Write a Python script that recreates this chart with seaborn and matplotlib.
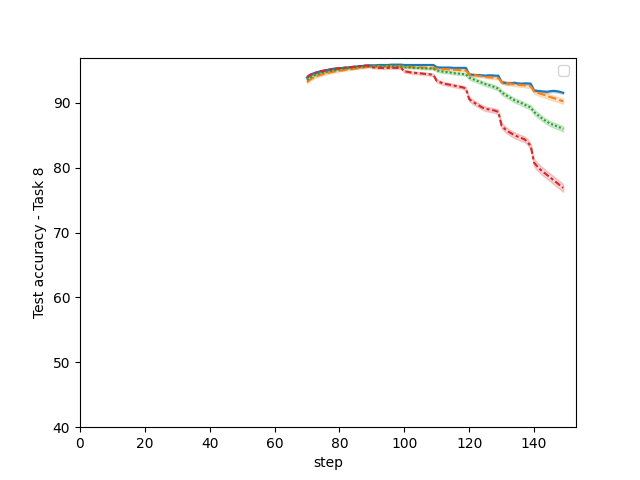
import numpy as np
import pandas as pd
import matplotlib
matplotlib.use("Agg")
import matplotlib.pyplot as plt
import seaborn as sns

# steps where task 8 is evaluated
steps = list(range(70, 150))

# mean test accuracy per method
acc_a = [93.9, 94.3, 94.55, 94.7, 94.85, 94.95, 95.05, 95.15, 95.25, 95.3,
         95.35, 95.4, 95.45, 95.5, 95.55, 95.6, 95.65, 95.7, 95.75, 95.8,
         95.8, 95.8, 95.85, 95.85, 95.85, 95.85, 95.9, 95.9, 95.9, 95.9,
         95.85, 95.85, 95.85, 95.85, 95.85, 95.85, 95.85, 95.85, 95.85, 95.85,
         95.5, 95.45, 95.45, 95.45, 95.45, 95.4, 95.4, 95.4, 95.4, 95.4,
         94.4, 94.35, 94.3, 94.3, 94.25, 94.2, 94.25, 94.25, 94.2, 94.2,
         93.2, 93.1, 93.0, 93.05, 93.1, 93.0, 92.95, 93.0, 93.0, 92.95,
         91.9, 91.85, 91.8, 91.75, 91.7, 91.8, 91.85, 91.8, 91.7, 91.55]
acc_b = [93.2, 93.6, 93.9, 94.1, 94.3, 94.45, 94.6, 94.7, 94.8, 94.9,
         94.95, 95.0, 95.1, 95.15, 95.2, 95.3, 95.35, 95.4, 95.5, 95.55,
         95.6, 95.6, 95.65, 95.65, 95.65, 95.65, 95.65, 95.65, 95.65, 95.65,
         95.6, 95.55, 95.55, 95.5, 95.5, 95.5, 95.45, 95.45, 95.45, 95.4,
         95.3, 95.25, 95.2, 95.2, 95.15, 95.1, 95.1, 95.05, 95.0, 95.0,
         94.4, 94.3, 94.25, 94.15, 94.1, 94.0, 93.95, 93.9, 93.85, 93.8,
         93.2, 93.1, 93.0, 92.95, 92.85, 92.8, 92.75, 92.7, 92.6, 92.55,
         91.8, 91.6, 91.4, 91.25, 91.1, 90.9, 90.75, 90.6, 90.4, 90.25]
acc_c = [93.5, 93.9, 94.2, 94.4, 94.55, 94.7, 94.8, 94.9, 95.0, 95.1,
         95.2, 95.25, 95.3, 95.35, 95.4, 95.45, 95.5, 95.55, 95.6, 95.65,
         95.7, 95.7, 95.7, 95.7, 95.7, 95.7, 95.65, 95.65, 95.65, 95.6,
         95.5, 95.45, 95.45, 95.4, 95.4, 95.35, 95.35, 95.3, 95.3, 95.25,
         95.0, 94.9, 94.8, 94.75, 94.7, 94.6, 94.55, 94.5, 94.45, 94.4,
         93.9, 93.7, 93.5, 93.3, 93.1, 92.9, 92.75, 92.6, 92.4, 92.2,
         91.6, 91.3, 91.0, 90.7, 90.4, 90.2, 90.0, 89.75, 89.5, 89.3,
         88.6, 88.2, 87.8, 87.4, 87.1, 86.8, 86.6, 86.4, 86.2, 86.0]
acc_d = [94.0, 94.35, 94.55, 94.7, 94.85, 94.95, 95.05, 95.15, 95.2, 95.3,
         95.35, 95.4, 95.45, 95.5, 95.55, 95.6, 95.65, 95.7, 95.75, 95.75,
         95.5, 95.45, 95.4, 95.4, 95.35, 95.4, 95.4, 95.4, 95.4, 95.4,
         94.85, 94.8, 94.7, 94.65, 94.6, 94.55, 94.5, 94.45, 94.4, 94.3,
         93.4, 93.2, 93.0, 92.9, 92.8, 92.7, 92.6, 92.5, 92.4, 92.2,
         90.6, 90.2, 89.9, 89.6, 89.3, 89.1, 89.0, 88.9, 88.8, 88.6,
         86.5, 86.0, 85.6, 85.3, 85.0, 84.8, 84.6, 84.4, 84.0, 83.3,
         80.8, 80.2, 79.7, 79.3, 78.9, 78.5, 78.1, 77.7, 77.3, 76.9]

# std between runs, one value per block of 10 steps
sd_a = [0.15, 0.1, 0.1, 0.1, 0.15, 0.15, 0.2, 0.2]
sd_b = [0.2, 0.1, 0.1, 0.1, 0.15, 0.2, 0.3, 0.4]
sd_c = [0.2, 0.1, 0.1, 0.15, 0.2, 0.3, 0.35, 0.4]
sd_d = [0.2, 0.1, 0.15, 0.2, 0.25, 0.35, 0.45, 0.6]

methods = ["a", "b", "c", "d"]

rows = []
for name, acc, sd in zip(methods, [acc_a, acc_b, acc_c, acc_d], [sd_a, sd_b, sd_c, sd_d]):
    spread = np.repeat(sd, 10)
    for s, m, d in zip(steps, acc, spread):
        # three runs -> mean m, std d
        for k in (-1, 0, 1):
            rows.append({"step": s, "acc": m + k * d, "method": name})
df = pd.DataFrame(rows)

fig, ax = plt.subplots(figsize=(6.4, 4.8), dpi=100)
sns.lineplot(data=df, x="step", y="acc", hue="method", style="method",
             errorbar="sd", legend=False, ax=ax)
ax.set_xlim(left=0)
ax.set_ylim(bottom=40)
ax.set_xlabel("step")
ax.set_ylabel("Test accuracy - Task 8")
ax.legend(handles=[], loc="upper right")
plt.savefig("out.png", dpi=100)
